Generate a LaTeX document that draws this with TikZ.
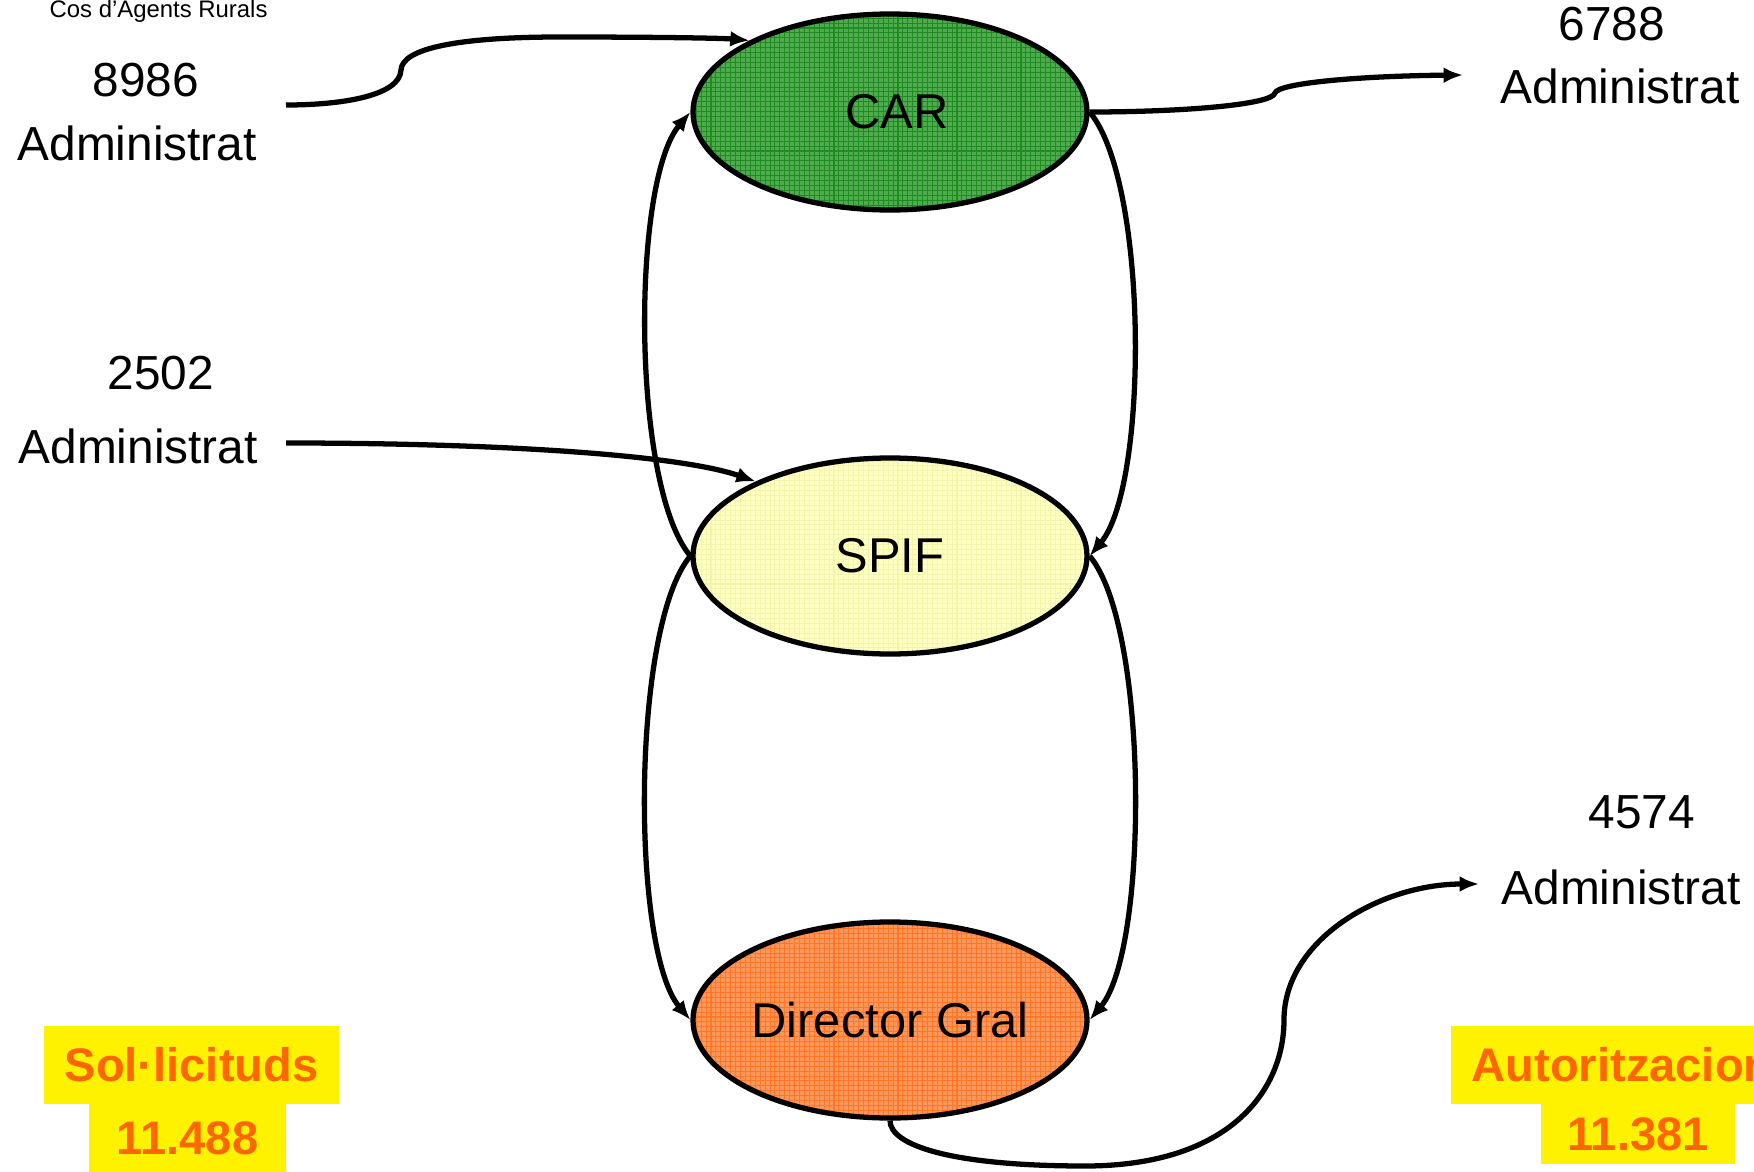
\documentclass[tikz,border=0pt]{standalone}
\usepackage{fontspec}
\setmainfont{Liberation Sans}
\usetikzlibrary{shapes.geometric, patterns, arrows.meta}
\definecolor{carfill}{RGB}{80,170,80}
\definecolor{cargrid}{RGB}{30,140,30}
\definecolor{spiffill}{RGB}{255,255,196}
\definecolor{spifgrid}{RGB}{244,244,170}
\definecolor{dgfill}{RGB}{255,150,90}
\definecolor{dggrid}{RGB}{255,120,40}
\definecolor{tallytext}{RGB}{255,102,0}
\pgfdeclarepatternformonly{finegrid}{\pgfqpoint{-0.2pt}{-0.2pt}}{\pgfqpoint{1.6pt}{1.6pt}}{\pgfqpoint{1.4pt}{1.4pt}}{
	\pgfsetlinewidth{0.3pt}
	\pgfpathmoveto{\pgfqpoint{0pt}{0.7pt}}\pgfpathlineto{\pgfqpoint{1.4pt}{0.7pt}}
	\pgfpathmoveto{\pgfqpoint{0.7pt}{0pt}}\pgfpathlineto{\pgfqpoint{0.7pt}{1.4pt}}
	\pgfusepath{stroke}
}

\begin{document}
\begin{tikzpicture}[
	unit/.style 2 args={ellipse, draw, line width=1.5pt, minimum width=3.94cm, minimum height=1.96cm, inner sep=0pt, preaction={fill=#1}, pattern=finegrid, pattern color=#2, font=\fontsize{13.9pt}{16pt}\selectfont},
	numtext/.style={inner sep=0pt, font=\fontsize{13.6pt}{16pt}\selectfont},
	tallybox/.style={fill=yellow, text=tallytext, inner sep=0pt, font=\bfseries\fontsize{13.4pt}{16pt}\selectfont},
	flow/.style={line width=1.5pt, -{Latex[length=5.5pt, width=4.5pt]}}
]
	\useasboundingbox (0,0) rectangle (17.54,-11.72);
	\clip (0,0) rectangle (17.54,-11.72);

	\coordinate (S1) at (2.86,-1.05);
	\coordinate (S2) at (2.86,-4.43);
	\coordinate (E1) at (14.63,-0.75);
	\coordinate (E2) at (14.79,-8.84);

	\node [unit={carfill}{cargrid}] (CAR) at (8.90,-1.12) {\hspace{0.14cm}CAR};
	\node [unit={spiffill}{spifgrid}] (SPIF) at (8.90,-5.56) {SPIF};
	\node [unit={dgfill}{dggrid}] (DG) at (8.90,-10.20) {Director Gral\hspace{0.22cm}};

	\node [anchor=base west, inner sep=0pt, font=\fontsize{6.8pt}{8pt}\selectfont] (cos) at (0.49,-0.17) {Cos d’Agents Rurals};
	\node [numtext, anchor=base] (n1) at (1.46,-0.97) {8986};
	\node [numtext, anchor=base west] (a1) at (0.17,-1.61) {Administrat};
	\node [numtext, anchor=base] (n2) at (1.61,-3.89) {2502};
	\node [numtext, anchor=base west] (a2) at (0.18,-4.63) {Administrat};
	\node [numtext, anchor=base] (n3) at (16.12,-0.41) {6788};
	\node [numtext, anchor=base west] (a3) at (15.00,-1.04) {Administrat};
	\node [numtext, anchor=base] (n4) at (16.42,-8.28) {4574};
	\node [numtext, anchor=base west] (a4) at (15.01,-9.04) {Administrat};

	\node [tallybox, minimum width=1.97cm, minimum height=0.68cm] (t2) at (1.875,-11.38) {11.488};
	\node [tallybox, minimum width=2.95cm, minimum height=0.78cm] (t1) at (1.915,-10.65) {Sol·licituds};
	\node [tallybox, minimum width=1.94cm, minimum height=0.60cm] (t4) at (16.38,-11.34) {11.381};
	\node [tallybox, anchor=west, inner xsep=0.21cm, minimum height=0.78cm] (t3) at (14.50,-10.65) {Autoritzacions};

	\draw [flow] (S1) .. controls (3.45,-1.05) and (4.00,-0.95) .. (4.01,-0.70) .. controls (4.02,-0.48) and (4.60,-0.37) .. (5.60,-0.37) .. controls (6.50,-0.37) and (7.20,-0.38) .. (CAR.153);
	\draw [flow] (S2) .. controls (5.00,-4.43) and (6.80,-4.55) .. (SPIF.151);
	\draw [flow] (CAR.east) .. controls (11.80,-1.12) and (12.72,-1.05) .. (12.75,-0.93) .. controls (12.78,-0.83) and (13.60,-0.76) .. (E1);
	\draw [flow] (DG.south) .. controls (8.90,-11.45) and (9.50,-11.66) .. (10.85,-11.66) .. controls (12.30,-11.66) and (12.84,-10.90) .. (12.84,-10.20) .. controls (12.84,-9.40) and (13.80,-8.84) .. (E2);

	\draw [flow] (SPIF.west) to [out=130, in=-130, looseness=0.53] (CAR.west);
	\draw [flow] (CAR.east) to [out=-50, in=50, looseness=0.53] (SPIF.east);
	\draw [flow] (SPIF.west) to [out=-130, in=130, looseness=0.51] (DG.west);
	\draw [flow] (SPIF.east) to [out=-50, in=50, looseness=0.51] (DG.east);
\end{tikzpicture}
\end{document}
